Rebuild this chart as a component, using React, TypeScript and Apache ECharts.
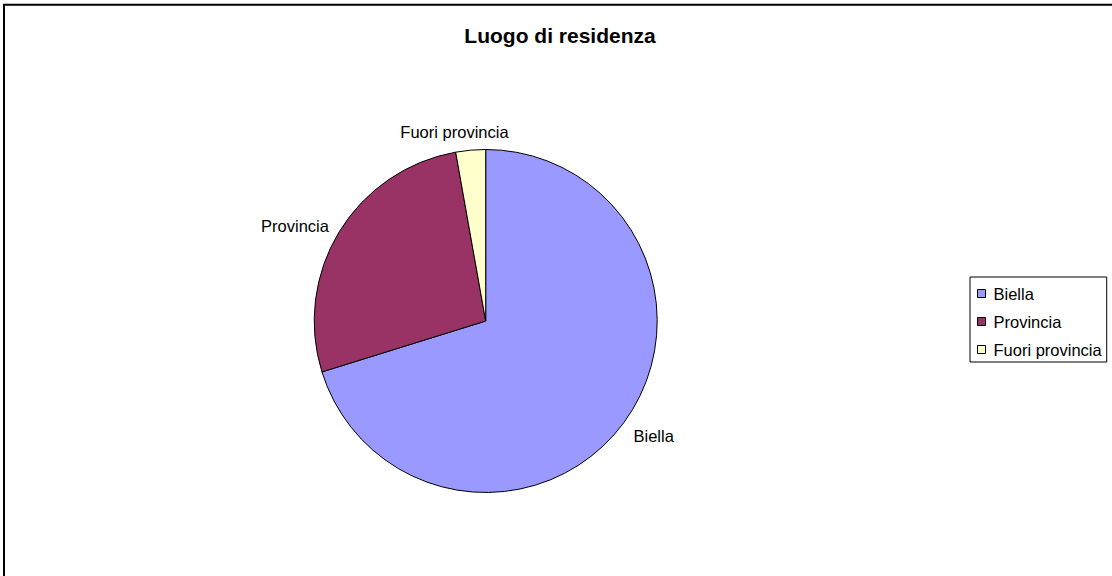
import React, { useEffect, useRef } from "react";
import * as echarts from "echarts";

const categories = ["Biella", "Provincia", "Fuori provincia"];
const values = [70.2, 27.0, 2.8];
const colors = ["#9999FF", "#993366", "#FFFFCC"];
const titleText = "Luogo di residenza";

const FONT = "'Liberation Sans', Arial, Helvetica, sans-serif";

export default function App() {
  const ref = useRef<HTMLDivElement>(null);

  useEffect(() => {
    if (!ref.current) return;
    const chart = echarts.init(ref.current, undefined, { renderer: "svg" });
    const labelTweaks: Record<number, { dx?: number; dy?: number }> = {
      0: { dy: 6 },
      2: { dx: 39, dy: -6 },
    };
    chart.setOption({
      animation: false,
      backgroundColor: "#ffffff",
      title: {
        text: titleText,
        left: 560,
        top: 25,
        padding: 0,
        textAlign: "center",
        textStyle: { fontFamily: FONT, fontSize: 21, fontWeight: "bold", color: "#000" },
      },
      legend: {
        orient: "vertical",
        left: 970,
        top: 277,
        padding: [8, 5, 4, 7],
        itemGap: 11,
        itemWidth: 8,
        itemHeight: 8,
        icon: "rect",
        borderColor: "#000",
        borderWidth: 1,
        data: categories,
        itemStyle: { borderColor: "#000", borderWidth: 1 },
        textStyle: { fontFamily: FONT, fontSize: 16.5, color: "#000", padding: [0, 0, 0, 3] },
      },
      graphic: [
        { type: "line", shape: { x1: 3, y1: 4.8, x2: 1112, y2: 4.8 }, style: { stroke: "#000", lineWidth: 2 } },
        { type: "line", shape: { x1: 4, y1: 4, x2: 4, y2: 576 }, style: { stroke: "#000", lineWidth: 2 } },
      ],
      series: [
        {
          type: "pie",
          center: [485.7, 321],
          radius: 171.5,
          startAngle: 90,
          clockwise: true,
          avoidLabelOverlap: false,
          itemStyle: { borderColor: "#000", borderWidth: 1 },
          label: {
            show: true,
            position: "outside",
            formatter: "{b}",
            fontFamily: FONT,
            fontSize: 16.5,
            color: "#000",
            distanceToLabelLine: 0,
          },
          labelLine: { show: false, length: 12, length2: 0 },
          emphasis: { disabled: true },
          labelLayout: (params: any) => labelTweaks[params.dataIndex] || {},
          data: categories.map((name, i) => ({
            name,
            value: values[i],
            itemStyle: { color: colors[i] },
          })),
        },
      ],
    });
    return () => chart.dispose();
  }, []);

  return (
    <div
      ref={ref}
      style={{ position: "absolute", left: 0, top: 0, width: 1112, height: 576 }}
    />
  );
}
